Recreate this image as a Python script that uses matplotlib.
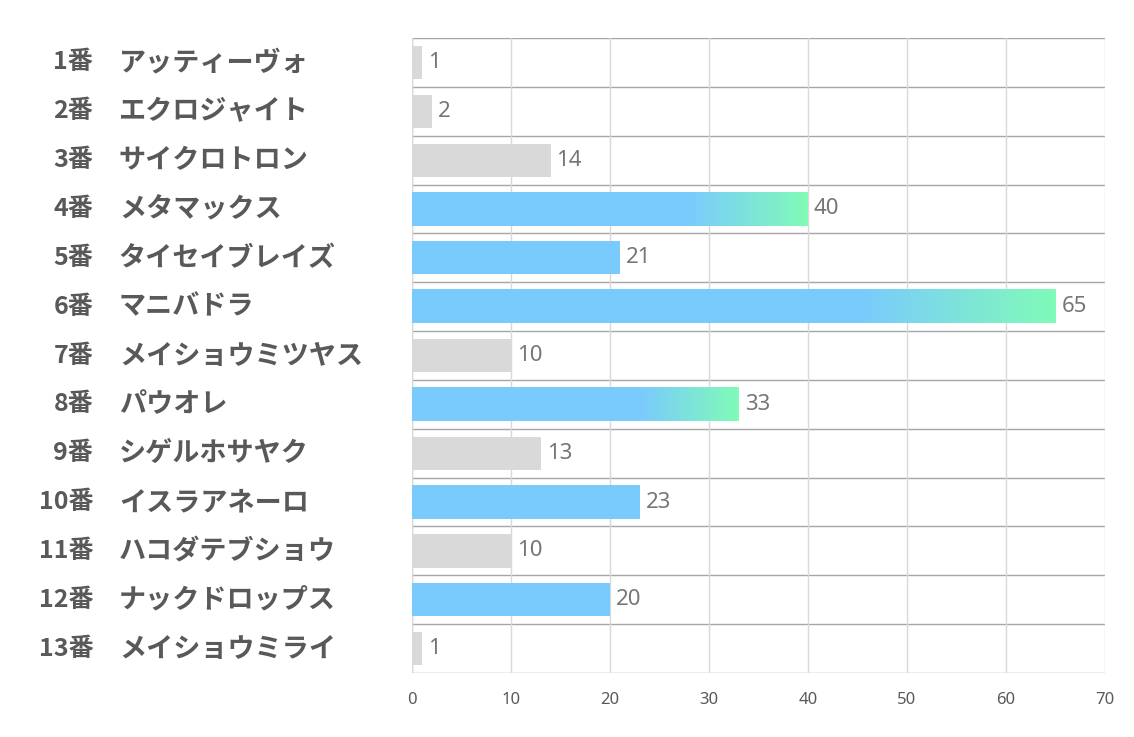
import numpy as np
import matplotlib
matplotlib.use('Agg')
import matplotlib.pyplot as plt
from matplotlib.colors import to_rgb

plt.rcParams['font.family'] = ['Noto Sans CJK JP', 'DejaVu Sans']

numbers = ['1番', '2番', '3番', '4番', '5番', '6番', '7番', '8番', '9番', '10番', '11番', '12番', '13番']
names = ['アッティーヴォ', 'エクロジャイト', 'サイクロトロン', 'メタマックス', 'タイセイブレイズ', 'マニバドラ',
         'メイショウミツヤス', 'パウオレ', 'シゲルホサヤク', 'イスラアネーロ', 'ハコダテブショウ',
         'ナックドロップス', 'メイショウミライ']
values = [1, 2, 14, 40, 21, 65, 10, 33, 13, 23, 10, 20, 1]
highlight = [False, False, False, True, True, True, False, True, False, True, False, True, False]
gradient = [False, False, False, True, False, True, False, True, False, False, False, False, False]

blue = '#7acbfd'
green = '#80fbb8'
gray = '#d9d9d9'

fig = plt.figure(figsize=(11.34, 7.37), dpi=100)
ax = fig.add_axes([0.3633, 0.0868, 0.6111, 0.8616])

n = len(values)
h = 0.68

for i, v in enumerate(values):
    if gradient[i]:
        # solid blue, blending to green over last ~30% of the bar
        t = np.linspace(0, 1, 300)
        w = np.clip((t - 0.7) / 0.3, 0, 1)
        c0, c1 = np.array(to_rgb(blue)), np.array(to_rgb(green))
        img = (c0[None, :] * (1 - w[:, None]) + c1[None, :] * w[:, None])[None, :, :]
        ax.imshow(img, extent=[0, v, i + h / 2, i - h / 2], aspect='auto', zorder=2,
                  interpolation='bilinear')
    else:
        ax.barh(i, v, height=h, color=blue if highlight[i] else gray, zorder=2)
    ax.text(v + 0.6, i, str(v), va='center', ha='left', fontsize=16, color='#767676',
            family=['Noto Sans', 'DejaVu Sans'], zorder=3)

ax.set_xlim(0, 70)
ax.set_ylim(n - 0.5, -0.5)
ax.set_xticks(range(0, 71, 10))
ax.set_yticks([])
ax.tick_params(axis='x', length=0, labelsize=12, labelcolor='#595959', pad=14)
for lbl in ax.get_xticklabels():
    lbl.set_family(['Noto Sans', 'DejaVu Sans'])

ax.grid(axis='x', color='#d9d9d9', linewidth=1, zorder=0)
for b in np.arange(-0.5, n, 1):
    ax.axhline(b, color='#a6a6a6', linewidth=1, zorder=1)
for s in ax.spines.values():
    s.set_visible(False)
ax.axvline(0, color='#bfbfbf', linewidth=1, zorder=1)

for i in range(n):
    ax.text(-0.460, i, numbers[i], transform=ax.get_yaxis_transform(), ha='right', va='center',
            fontsize=18, fontweight='bold', color='#595959')
    ax.text(-0.423, i, names[i], transform=ax.get_yaxis_transform(), ha='left', va='center',
            fontsize=19.5, fontweight='bold', color='#595959')

fig.savefig('out.png', dpi=100, facecolor='white')
